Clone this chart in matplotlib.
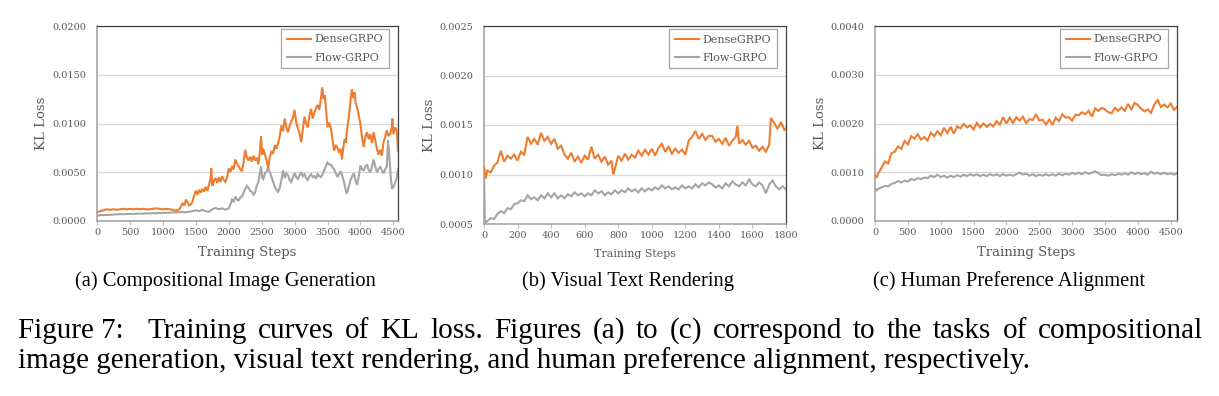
import matplotlib
matplotlib.use("Agg")
import matplotlib.pyplot as plt
import numpy as np

# ---------------- data ----------------
# (a) Compositional Image Generation, KL loss x 1e-3
a_steps_dense = [0, 50, 100, 150, 200, 250, 300, 350, 400, 450, 500, 550, 600, 650, 700, 750, 800, 850,
                 900, 950, 1000, 1050, 1100, 1150, 1200,
                 1250, 1275, 1300, 1325, 1350, 1375, 1400, 1425, 1450, 1475, 1500, 1525, 1550, 1575, 1600,
                 1625, 1650, 1675, 1700, 1725, 1735, 1750, 1775, 1800, 1825, 1850, 1875, 1900, 1925, 1950,
                 1975, 2000, 2025, 2050, 2075, 2100, 2125, 2150, 2175, 2200, 2225, 2250, 2275, 2300, 2325,
                 2350, 2375, 2400, 2425, 2450, 2475, 2490, 2510, 2525, 2550, 2575, 2600, 2625, 2650, 2675,
                 2700, 2725, 2750, 2775, 2800, 2825, 2850, 2875, 2900, 2925, 2950, 2975, 3000, 3025, 3050,
                 3075, 3100, 3125, 3150, 3175, 3200, 3225, 3250, 3275, 3300, 3325, 3350, 3375, 3400, 3420,
                 3440, 3460, 3475, 3500, 3525, 3550, 3575, 3600, 3625, 3650, 3675, 3700, 3720, 3740, 3760,
                 3775, 3800, 3825, 3850, 3870, 3890, 3910, 3925, 3950, 3975, 4000, 4025, 4050, 4075, 4100,
                 4125, 4150, 4175, 4200, 4225, 4250, 4275, 4300, 4325, 4350, 4375, 4400, 4425, 4450, 4475,
                 4485, 4500, 4525, 4550, 4570]
a_dense = [0.9, 1.0, 1.1, 1.2, 1.15, 1.2, 1.15, 1.2, 1.25, 1.2, 1.25, 1.2, 1.25, 1.2, 1.25, 1.2, 1.2, 1.25,
           1.3, 1.25, 1.2, 1.25, 1.2, 1.15, 1.05,
           1.2, 1.5, 1.8, 1.6, 2.2, 1.9, 1.6, 1.7, 2.0, 2.6, 3.1, 2.7, 3.2, 2.9, 3.3,
           3.0, 3.5, 3.1, 3.7, 4.4, 5.4, 3.6, 4.1, 4.4, 3.9, 4.5, 4.0, 4.6, 4.2, 4.0,
           4.5, 5.4, 5.0, 5.6, 5.3, 6.3, 5.9, 5.6, 5.3, 5.1, 6.0, 7.3, 6.5, 6.2, 6.6,
           6.1, 6.7, 6.2, 6.5, 5.8, 7.2, 8.7, 6.8, 7.4, 6.8, 6.2, 5.4, 6.6, 7.2, 6.9,
           7.8, 7.4, 8.0, 8.7, 9.8, 9.2, 10.5, 9.6, 9.1, 9.8, 10.2, 10.6, 11.4, 10.1, 9.5,
           9.0, 8.1, 9.4, 10.7, 10.0, 9.6, 10.8, 11.5, 10.5, 11.1, 11.6, 11.9, 11.4, 12.6, 13.7,
           12.5, 12.9, 11.6, 9.6, 10.1, 9.5, 8.4, 7.2, 7.8, 7.5, 7.0, 7.4, 6.3, 7.6, 8.4,
           8.0, 9.5, 10.8, 12.4, 13.5, 12.6, 13.2, 12.2, 11.6, 10.8, 9.9, 8.5, 7.6, 8.7, 9.1,
           8.4, 8.9, 8.0, 9.1, 8.3, 7.4, 6.8, 7.3, 6.7, 8.1, 8.6, 9.3, 8.7, 8.9, 9.6,
           10.5, 8.9, 9.6, 9.3, 7.2]

a_steps_flow = [0, 50, 100, 150, 200, 250, 300, 350, 400, 450, 500, 550, 600, 650, 700, 750, 800, 850, 900,
                950, 1000, 1050, 1100, 1150, 1200, 1250, 1300, 1350, 1400, 1450, 1500, 1550, 1600, 1650,
                1700, 1750, 1800, 1850, 1900, 1950, 2000,
                2025, 2050, 2075, 2100, 2125, 2150, 2175, 2200, 2225, 2250, 2275, 2300, 2325, 2350, 2375,
                2400, 2425, 2450, 2475, 2490, 2510, 2525, 2550, 2575, 2600, 2625, 2650, 2675, 2700, 2725,
                2750, 2775, 2800, 2825, 2850, 2875, 2900, 2925, 2950, 2975, 3000, 3025, 3050, 3075, 3100,
                3125, 3150, 3175, 3200, 3225, 3250, 3275, 3300, 3325, 3350, 3375, 3400, 3425, 3450, 3475,
                3500, 3525, 3550, 3575, 3600, 3625, 3650, 3675, 3700, 3725, 3750, 3775, 3790, 3810, 3825,
                3850, 3875, 3900, 3925, 3950, 3975, 4000, 4025, 4050, 4075, 4100, 4125, 4150, 4175, 4200,
                4225, 4250, 4275, 4300, 4325, 4350, 4375, 4400, 4420, 4440, 4460, 4480, 4500, 4525, 4550,
                4570]
a_flow = [0.55, 0.6, 0.6, 0.62, 0.65, 0.65, 0.68, 0.7, 0.7, 0.72, 0.73, 0.72, 0.75, 0.76, 0.75, 0.78, 0.78,
          0.8, 0.8, 0.82, 0.82, 0.85, 0.85, 0.88, 0.88, 0.9, 0.92, 0.9, 0.95, 1.0, 1.1, 1.0, 1.15, 1.0,
          0.95, 1.2, 1.35, 1.2, 1.3, 1.15, 1.3,
          1.7, 2.2, 2.0, 2.5, 2.2, 2.1, 2.4, 2.5, 2.9, 3.3, 3.6, 3.4, 3.1, 3.0, 2.7,
          2.9, 3.6, 4.0, 5.0, 5.6, 4.4, 4.3, 4.9, 5.1, 5.5, 5.0, 4.5, 4.0, 3.5, 3.2,
          3.0, 3.4, 4.2, 5.2, 4.4, 4.9, 4.7, 4.2, 4.0, 4.5, 4.9, 4.5, 4.3, 4.7, 5.0,
          4.6, 4.8, 4.4, 4.2, 4.6, 4.8, 4.5, 4.6, 4.4, 4.8, 4.6, 4.5, 4.8, 5.2, 5.6,
          6.0, 5.8, 5.8, 5.5, 5.3, 4.9, 4.5, 4.8, 5.1, 4.6, 4.0, 3.2, 2.8, 3.2, 3.6,
          4.2, 4.6, 4.9, 4.2, 3.7, 4.6, 5.7, 5.3, 5.2, 5.6, 5.8, 5.2, 5.0, 5.6, 6.3,
          5.6, 5.0, 5.3, 5.6, 5.2, 4.9, 5.3, 5.6, 8.3, 6.5, 4.5, 3.3, 3.5, 3.9, 4.4,
          5.3]

# (b) Visual Text Rendering, KL loss x 1e-4
b_steps_dense = [0, 10, 20, 40, 60, 80, 100, 120, 140, 160, 180, 200, 220, 240, 260, 280, 300, 320, 340,
                 360, 380, 400, 420, 440, 460, 480, 500, 520, 540, 560, 580, 600, 620, 640, 660, 680, 700,
                 720, 740, 760, 770, 780, 800, 820, 840, 860, 880, 900, 920, 940, 960, 980, 1000, 1020,
                 1040, 1060, 1080, 1100, 1120, 1140, 1160, 1180, 1200, 1220, 1240, 1260, 1280, 1300, 1320,
                 1340, 1360, 1380, 1400, 1420, 1440, 1460, 1480, 1500, 1510, 1520, 1540, 1560, 1580, 1600,
                 1620, 1640, 1660, 1680, 1700, 1710, 1730, 1750, 1770, 1790, 1800]
b_dense = [10.8, 9.6, 10.4, 10.2, 10.9, 11.2, 12.4, 11.3, 11.9, 11.6, 12.0, 11.4, 12.3, 12.0, 13.8, 13.1,
           13.6, 13.0, 14.2, 13.4, 13.8, 13.1, 13.6, 12.6, 12.9, 12.0, 11.6, 12.2, 11.3, 11.8, 11.2, 11.9,
           11.5, 12.8, 11.6, 12.0, 11.3, 11.8, 11.0, 11.4, 10.0, 10.6, 11.9, 11.4, 12.1, 11.5, 12.0, 11.7,
           12.4, 11.9, 12.5, 12.0, 12.6, 11.9, 12.7, 13.1, 12.3, 12.8, 12.1, 12.6, 12.2, 12.5, 12.0, 13.4,
           13.8, 14.4, 13.6, 14.1, 13.5, 13.9, 13.9, 13.3, 13.6, 13.1, 13.7, 12.9, 13.4, 13.8, 14.9, 13.1,
           13.5, 13.0, 13.4, 12.7, 12.9, 12.4, 12.8, 12.3, 13.0, 15.7, 15.2, 14.6, 15.3, 14.5, 14.7]

b_steps_flow = [0, 5, 20, 40, 60, 80, 100, 120, 140, 160, 180, 200, 220, 240, 260, 280, 300, 320, 340, 360,
                380, 400, 420, 440, 460, 480, 500, 520, 540, 560, 580, 600, 620, 640, 660, 680, 700, 720,
                740, 760, 780, 800, 820, 840, 860, 880, 900, 920, 940, 960, 980, 1000, 1020, 1040, 1060,
                1080, 1100, 1120, 1140, 1160, 1180, 1200, 1220, 1240, 1260, 1280, 1300, 1320, 1340, 1360,
                1380, 1400, 1420, 1440, 1460, 1480, 1500, 1520, 1540, 1560, 1580, 1600, 1620, 1640, 1660,
                1680, 1700, 1720, 1740, 1760, 1780, 1800]
b_flow = [10.5, 5.1, 5.3, 5.6, 5.5, 6.0, 6.3, 6.1, 6.6, 6.5, 7.0, 7.1, 7.4, 7.3, 7.9, 7.5, 7.7, 7.4, 7.9,
          7.6, 8.1, 7.7, 8.1, 7.6, 7.9, 7.6, 8.0, 7.8, 8.2, 7.9, 8.1, 7.8, 8.1, 7.9, 8.4, 8.1, 8.3, 7.9,
          8.2, 8.0, 8.4, 8.1, 8.4, 8.2, 8.6, 8.3, 8.5, 8.2, 8.6, 8.3, 8.6, 8.4, 8.7, 8.5, 8.9, 8.6, 8.8,
          8.5, 8.7, 8.5, 8.9, 8.6, 8.8, 8.6, 9.0, 8.7, 9.1, 8.9, 9.2, 9.0, 8.7, 8.9, 8.6, 9.1, 8.8, 9.3,
          9.0, 8.8, 9.2, 8.9, 9.5, 9.0, 8.8, 9.2, 8.9, 8.1, 9.0, 9.4, 8.8, 8.5, 8.8, 8.5]

# (c) Human Preference Alignment, KL loss x 1e-4
c_steps = [0, 25, 50, 100, 150, 200, 250, 300, 350, 400, 450, 500, 550, 600, 650, 700, 750, 800, 850, 900,
           950, 1000, 1050, 1100, 1150, 1200, 1250, 1300, 1350, 1400, 1450, 1500, 1550, 1600, 1650, 1700,
           1750, 1800, 1850, 1900, 1950, 2000, 2050, 2100, 2150, 2200, 2250, 2300, 2350, 2400, 2450, 2500,
           2550, 2600, 2650, 2700, 2750, 2800, 2850, 2900, 2950, 3000, 3050, 3100, 3150, 3200, 3250, 3300,
           3350, 3400, 3450, 3500, 3550, 3600, 3650, 3700, 3750, 3800, 3850, 3900, 3950, 4000, 4050, 4100,
           4150, 4200, 4250, 4300, 4350, 4400, 4450, 4500, 4550, 4595]
c_dense = [9.4, 8.9, 9.8, 10.9, 12.2, 11.8, 13.9, 14.2, 15.3, 14.8, 16.4, 15.7, 17.4, 16.9, 17.8, 16.7,
           17.2, 16.5, 18.1, 17.4, 18.4, 17.6, 19.1, 18.0, 19.3, 17.9, 19.4, 19.0, 19.9, 19.2, 19.6, 18.8,
           20.1, 19.2, 20.0, 19.3, 19.9, 19.4, 20.5, 19.8, 21.3, 20.0, 21.2, 20.1, 21.3, 20.6, 21.4, 20.1,
           20.9, 20.7, 21.9, 20.6, 20.8, 19.8, 20.8, 19.7, 21.2, 20.5, 21.9, 21.2, 21.3, 20.6, 21.8, 21.7,
           22.3, 21.9, 22.6, 21.4, 23.1, 22.6, 23.2, 22.9, 22.3, 22.1, 23.2, 22.6, 23.3, 22.6, 24.0, 22.9,
           24.2, 23.8, 23.0, 22.5, 22.9, 22.2, 23.9, 24.8, 23.4, 23.9, 23.3, 24.1, 22.8, 23.4]
c_flow = [6.7, 6.3, 6.6, 6.9, 7.2, 7.1, 7.6, 7.8, 8.2, 7.9, 8.3, 8.1, 8.6, 8.4, 8.8, 8.6, 8.9, 8.8, 9.3,
          9.0, 9.5, 9.0, 9.3, 8.9, 9.3, 9.0, 9.4, 9.1, 9.5, 9.2, 9.6, 9.3, 9.6, 9.2, 9.5, 9.2, 9.6, 9.3,
          9.6, 9.2, 9.6, 9.3, 9.5, 9.3, 9.6, 9.9, 9.5, 9.7, 9.3, 9.6, 9.2, 9.5, 9.3, 9.6, 9.3, 9.6, 9.3,
          9.7, 9.4, 9.7, 9.5, 9.9, 9.6, 9.9, 9.6, 10.0, 9.7, 9.9, 10.2, 9.8, 9.4, 9.5, 9.3, 9.6, 9.4, 9.7,
          9.5, 9.8, 9.5, 10.0, 9.6, 9.9, 9.6, 9.8, 9.5, 10.1, 9.7, 9.9, 9.6, 9.9, 9.6, 9.8, 9.5, 9.8]

series_names = ["DenseGRPO", "Flow-GRPO"]
subcaptions = ["(a) Compositional Image Generation", "(b) Visual Text Rendering",
               "(c) Human Preference Alignment"]
caption_line1 = ["Figure 7:", "Training", "curves", "of", "KL", "loss.", "Figures", "(a)", "to", "(c)",
                 "correspond", "to", "the", "tasks", "of", "compositional"]
caption_line2 = "image generation, visual text rendering, and human preference alignment, respectively."

a_xticks = [0, 500, 1000, 1500, 2000, 2500, 3000, 3500, 4000, 4500]
a_yticks = [0.0, 0.005, 0.010, 0.015, 0.020]
b_xticks = [0, 200, 400, 600, 800, 1000, 1200, 1400, 1600, 1800]
b_yticks = [0.0005, 0.0010, 0.0015, 0.0020, 0.0025]
c_xticks = [0, 500, 1000, 1500, 2000, 2500, 3000, 3500, 4000, 4500]
c_yticks = [0.0, 0.001, 0.002, 0.003, 0.004]

# ---------------- style ----------------
ORANGE = "#ED7D31"
GRAY = "#A5A5A5"
TXT = "#595959"
SERIF = ["DejaVu Serif"]
TIMES = ["Liberation Serif", "DejaVu Serif"]

fig = plt.figure(figsize=(12.19, 3.96), dpi=100)
W, H = 1219, 396

def make_ax(l, r, t, b):
    return fig.add_axes([l / W, 1 - b / H, (r - l) / W, (b - t) / H])

panels = [
    dict(box=(97, 398, 26, 221), xs=(a_steps_dense, a_steps_flow), ys=(a_dense, a_flow), scale=1e-3,
         xlim=(0, 4570), ylim=(0, 0.02), xt=a_xticks, yt=a_yticks, ylab_x=-0.183, xlab_y=-0.164, xlab_fs=9.5),
    dict(box=(484, 786, 26, 224), xs=(b_steps_dense, b_steps_flow), ys=(b_dense, b_flow), scale=1e-4,
         xlim=(0, 1800), ylim=(0.0005, 0.0025), xt=b_xticks, yt=b_yticks, ylab_x=-0.179, xlab_y=-0.152, xlab_fs=7.9),
    dict(box=(875, 1177, 26, 221), xs=(c_steps, c_steps), ys=(c_dense, c_flow), scale=1e-4,
         xlim=(0, 4595), ylim=(0, 0.004), xt=c_xticks, yt=c_yticks, ylab_x=-0.182, xlab_y=-0.164, xlab_fs=9.5),
]

for p in panels:
    ax = make_ax(*p["box"])
    sc = p["scale"]
    ax.plot(p["xs"][0], np.array(p["ys"][0]) * sc, color=ORANGE, lw=1.5, label=series_names[0], zorder=3,
            solid_joinstyle="miter")
    ax.plot(p["xs"][1], np.array(p["ys"][1]) * sc, color=GRAY, lw=1.5, label=series_names[1], zorder=2,
            solid_joinstyle="miter")
    ax.set_xlim(*p["xlim"])
    ax.set_ylim(*p["ylim"])
    ax.set_xticks(p["xt"])
    ax.set_yticks(p["yt"])
    ax.set_yticklabels([f"{v:.4f}" for v in p["yt"]])
    ax.set_xticklabels([str(v) for v in p["xt"]])
    for lab in ax.get_xticklabels() + ax.get_yticklabels():
        lab.set_fontfamily(SERIF)
        lab.set_fontsize(7.0)
        lab.set_color(TXT)
    ax.tick_params(axis="y", length=0, pad=8)
    ax.tick_params(axis="x", length=3, width=0.8, color="#BFBFBF", pad=2, direction="out")
    ax.grid(axis="y", color="#D9D9D9", lw=0.9, zorder=0)
    ax.set_axisbelow(True)
    for s in ["left", "bottom"]:
        ax.spines[s].set_color("#A6A6A6")
        ax.spines[s].set_linewidth(1.2)
    for s in ["top", "right"]:
        ax.spines[s].set_color("#404040")
        ax.spines[s].set_linewidth(0.9)
    ax.text(p["ylab_x"], 0.5, "KL Loss", transform=ax.transAxes, rotation=90, ha="center", va="center",
            fontfamily=SERIF, fontsize=9.5, color=TXT)
    ax.text(0.5, p["xlab_y"], "Training Steps", transform=ax.transAxes, ha="center", va="center",
            fontfamily=SERIF, fontsize=p["xlab_fs"], color=TXT)
    leg = ax.legend(loc="upper right", bbox_to_anchor=(0.97, 0.985), prop={"family": SERIF, "size": 8},
                    frameon=True, fancybox=False, edgecolor="#A6A6A6", framealpha=1, handlelength=2.2,
                    handletextpad=0.3, borderpad=0.5, labelspacing=0.75, borderaxespad=0)
    leg.get_frame().set_linewidth(0.9)
    for t in leg.get_texts():
        t.set_color(TXT)

# sub captions
for xc, txt in zip([225, 628, 1009], subcaptions):
    fig.text(xc / W, 1 - 281 / H, txt, ha="center", va="center", fontfamily=TIMES, fontsize=14.8, color="black")

# main caption: first line justified between x=18 and x=1203
CAP_FS = 21.0
renderer = fig.canvas.get_renderer()
word_texts = []
widths = []
for w in caption_line1:
    t = fig.text(0, 1 - 331 / H, w, ha="left", va="center", fontfamily=TIMES, fontsize=CAP_FS, color="black")
    word_texts.append(t)
    widths.append(t.get_window_extent(renderer=renderer).width)
left_px, right_px = 18, 1203
n_gaps = len(caption_line1) - 1
weights = [2.2] + [1.0] * (n_gaps - 1)   # wider gap after "Figure 7:"
gap_unit = (right_px - left_px - sum(widths)) / sum(weights)
x = left_px
for i, t in enumerate(word_texts):
    t.set_x(x / W)
    x += widths[i]
    if i < n_gaps:
        x += gap_unit * weights[i]

fig.text(18 / W, 1 - 361 / H, caption_line2, ha="left", va="center", fontfamily=TIMES, fontsize=CAP_FS,
         color="black")

fig.savefig("out.png", dpi=100)
